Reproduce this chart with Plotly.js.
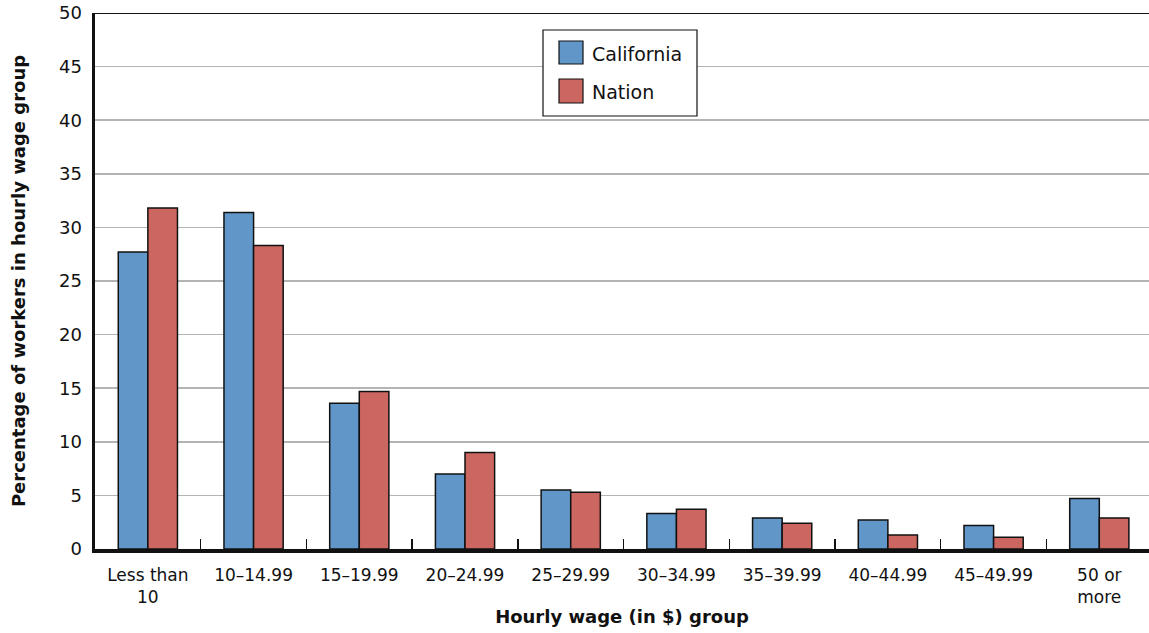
<!DOCTYPE html>
<html>
<head>
<meta charset="utf-8">
<script src="https://cdn.plot.ly/plotly-3.0.1.min.js"></script>
<style>
  html, body { margin: 0; padding: 0; background: #fff; }
  #chart { width: 1149px; height: 633px; }
</style>
</head>
<body>
<div id="chart"></div>
<script>
const categories = ["Less than<br>10", "10–14.99", "15–19.99", "20–24.99", "25–29.99",
                    "30–34.99", "35–39.99", "40–44.99", "45–49.99", "50 or<br>more"];
const seriesNames = ["California", "Nation"];
const california = [27.7, 31.4, 13.6, 7.0, 5.5, 3.3, 2.9, 2.7, 2.2, 4.7];
const nation     = [31.8, 28.3, 14.7, 9.0, 5.3, 3.7, 2.4, 1.3, 1.1, 2.9];
const yTicks = [0, 5, 10, 15, 20, 25, 30, 35, 40, 45, 50];
const colors = ["#6096C8", "#CC6660"];

const FONT = "DejaVu Sans, Verdana, sans-serif";
const INK = "#111";

const traces = [
  {
    type: "bar", name: seriesNames[0], x: categories, y: california,
    marker: { color: colors[0], line: { color: INK, width: 1.5 } },
    hoverinfo: "skip"
  },
  {
    type: "bar", name: seriesNames[1], x: categories, y: nation,
    marker: { color: colors[1], line: { color: INK, width: 1.5 } },
    hoverinfo: "skip"
  }
];

// pixel -> paper helpers for the hand-drawn legend box (plot area: x 95..1149, y 13..549)
const px = v => (v - 95) / 1054;
const py = v => (549 - v) / 536;

const shapes = [
  { type: "line", xref: "paper", yref: "y", x0: 0, x1: 1, y0: 50, y1: 50,
    line: { color: INK, width: 2 } },
  { type: "rect", xref: "paper", yref: "paper", x0: px(543), x1: px(697), y0: py(116), y1: py(30),
    fillcolor: "#fff", line: { color: INK, width: 1.2 }, layer: "above" },
  { type: "rect", xref: "paper", yref: "paper", x0: px(559), x1: px(583), y0: py(64), y1: py(41),
    fillcolor: colors[0], line: { color: INK, width: 1.2 }, layer: "above" },
  { type: "rect", xref: "paper", yref: "paper", x0: px(559), x1: px(583), y0: py(103), y1: py(79),
    fillcolor: colors[1], line: { color: INK, width: 1.2 }, layer: "above" }
];

const annotations = [
  { xref: "paper", yref: "paper", x: px(590), y: py(54), xanchor: "left", yanchor: "middle",
    text: seriesNames[0], showarrow: false, font: { family: FONT, size: 19, color: INK } },
  { xref: "paper", yref: "paper", x: px(590), y: py(92), xanchor: "left", yanchor: "middle",
    text: seriesNames[1], showarrow: false, font: { family: FONT, size: 19, color: INK } }
];

const layout = {
  width: 1149, height: 633,
  margin: { l: 95, r: 0, t: 13, b: 84 },
  paper_bgcolor: "#fff", plot_bgcolor: "#fff",
  font: { family: FONT, color: INK, size: 17 },
  barmode: "group", bargap: 0.44, bargroupgap: 0,
  showlegend: false,
  xaxis: {
    type: "category", range: [-0.5, 9.47],
    showgrid: false, showline: true, linecolor: INK, linewidth: 3.5,
    ticks: "inside", tickson: "boundaries", ticklen: 10, tickwidth: 1.5, tickcolor: INK,
    ticklabelstandoff: 8,
    tickfont: { family: FONT, size: 17, color: INK },
    title: { text: "Hourly wage (in $) group", font: { family: FONT, size: 18, color: INK, weight: "bold" }, standoff: 5 },
    automargin: false, fixedrange: true
  },
  yaxis: {
    range: [0, 50], tickvals: yTicks, ticktext: yTicks.map(String),
    showgrid: true, gridcolor: "#b4b4b4", gridwidth: 1.5,
    showline: true, linecolor: INK, linewidth: 3.5,
    ticks: "", ticklabelstandoff: 6,
    tickfont: { family: FONT, size: 18, color: INK },
    zeroline: false,
    title: { text: "Percentage of workers in hourly wage group", font: { family: FONT, size: 18, color: INK, weight: "bold" }, standoff: 29 },
    automargin: false, fixedrange: true
  },
  shapes: shapes,
  annotations: annotations
};

Plotly.newPlot("chart", traces, layout, { staticPlot: true, displayModeBar: false });
</script>
</body>
</html>
